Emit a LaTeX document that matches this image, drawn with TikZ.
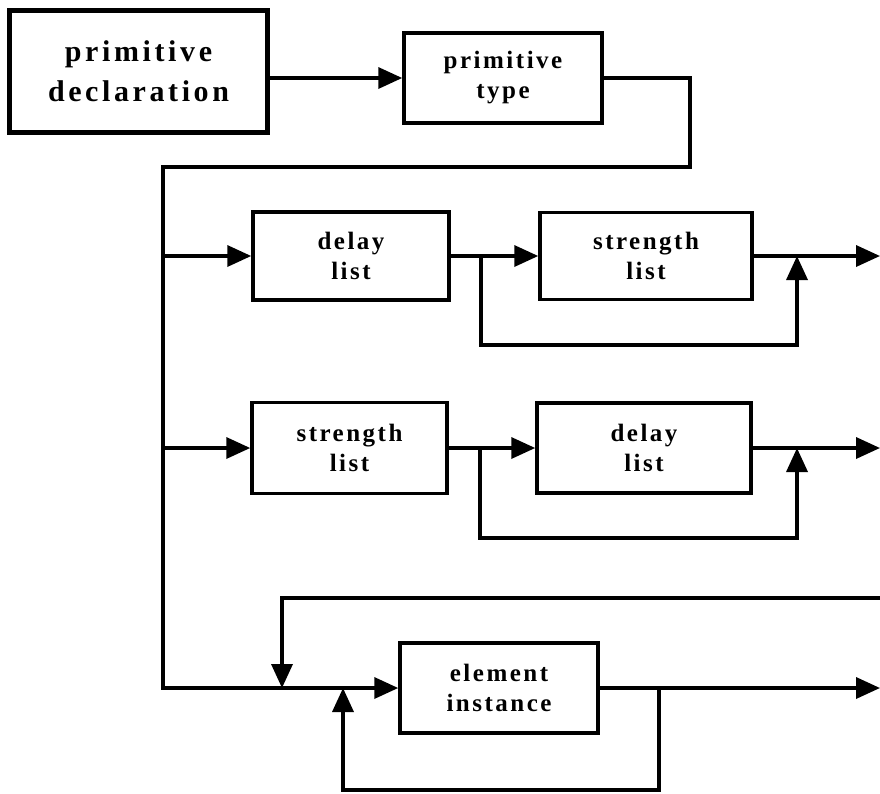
\documentclass[tikz,border=0pt]{standalone}
\usepackage{fontspec}
\setmainfont{Liberation Serif}
\newfontfamily\boxfont{Liberation Serif}[LetterSpace=10]
\newfontfamily\bigfont{Liberation Serif}[LetterSpace=12]
\usetikzlibrary{arrows.meta}
\tikzset{
  box/.style={draw, line width=3.5pt, align=center, inner sep=0pt, font=\boxfont\bfseries\fontsize{25}{30}\selectfont},
  bigbox/.style={draw, line width=5.5pt, align=center, inner sep=0pt, font=\bigfont\bfseries\fontsize{30}{40}\selectfont},
  conn/.style={line width=3.5pt, line cap=rect},
  arr/.style={conn, -{Triangle[length=24pt,width=21pt]}}
}
\begin{document}
\begin{tikzpicture}[x=1pt,y=-1pt]
\useasboundingbox (0,0) rectangle (880,793);
% nodes
\node[bigbox, minimum width=258pt, minimum height=122pt] (decl) at (138.5,71.5) {primitive\\declaration};
\node[box, minimum width=198pt, minimum height=90pt] (ptype) at (503,78) {primitive\\type};
\node[box, minimum width=196pt, minimum height=88pt] (dl1) at (351,256) {delay\\list};
\node[box, minimum width=212pt, minimum height=87pt] (sl1) at (646,256) {strength\\list};
\node[box, minimum width=195pt, minimum height=91pt] (sl2) at (349.5,448) {strength\\list};
\node[box, minimum width=214pt, minimum height=90pt] (dl2) at (644,448) {delay\\list};
\node[box, minimum width=198pt, minimum height=90pt] (ei) at (499,688) {element\\instance};
% coordinates
\coordinate (tr) at (690,167);
\coordinate (tl) at (163,167);
\coordinate (bl) at (163,688);
\coordinate (j1) at (481,256);
\coordinate (k1) at (797,256);
\coordinate (o1) at (880,256);
\coordinate (j2) at (480,448);
\coordinate (k2) at (797,448);
\coordinate (o2) at (880,448);
\coordinate (tlr) at (880,598);
\coordinate (m1) at (282,688);
\coordinate (m2) at (343,688);
\coordinate (j3) at (659,688);
\coordinate (o3) at (880,688);
% connectors
\draw[arr] (decl.east |- ptype.west) -- (ptype.west);
\draw[conn] (ptype.east) -| (tr) -- (tl) -- (bl);
\draw[arr] (bl) -- (ei.west);
% row 1
\draw[arr] (tl |- dl1.west) -- (dl1.west);
\draw[arr] (dl1.east) -- (sl1.west);
\draw[arr] (sl1.east) -- (o1);
\draw[arr] (j1) -- ++(0,89) -| (k1);
% row 2
\draw[arr] (tl |- sl2.west) -- (sl2.west);
\draw[arr] (sl2.east) -- (dl2.west);
\draw[arr] (dl2.east) -- (o2);
\draw[arr] (j2) -- ++(0,90) -| (k2);
% row 3
\draw[arr] (tlr) -| (m1);
\draw[arr] (ei.east) -- (o3);
\draw[arr] (j3) -- ++(0,102) -| (m2);
\end{tikzpicture}
\end{document}
